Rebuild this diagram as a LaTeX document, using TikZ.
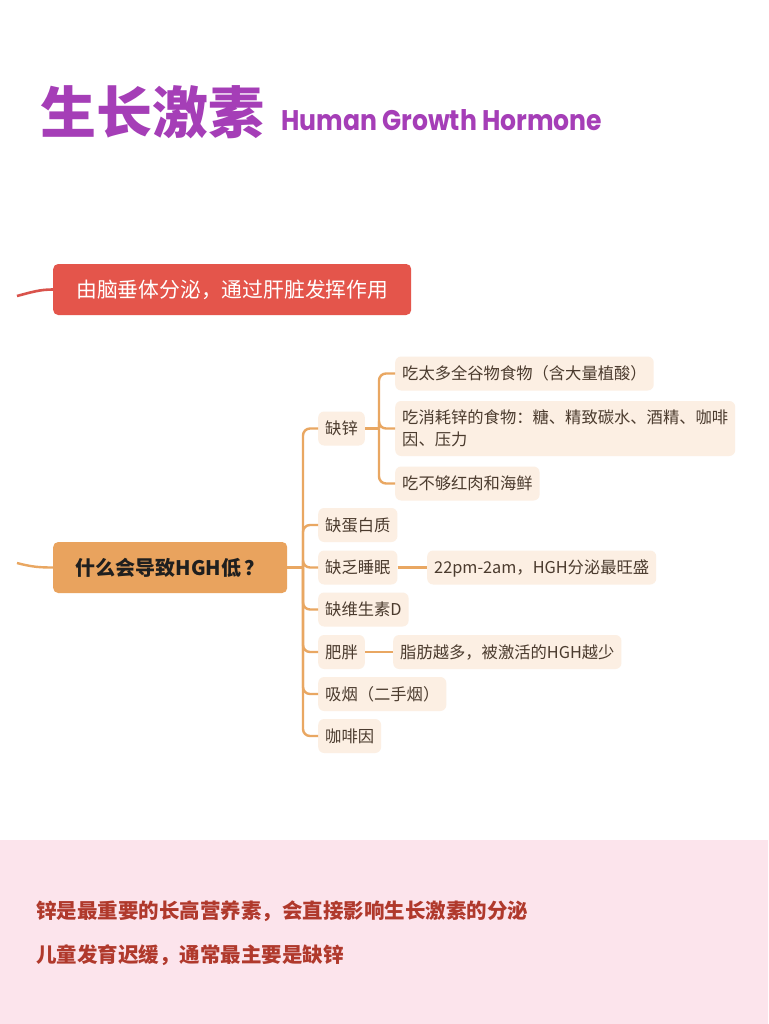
\documentclass[tikz,border=0pt]{standalone}
\usepackage{fontspec}
\newfontfamily\cjk{Noto Sans CJK SC}
\newfontfamily\pop{Poppins}
\definecolor{purp}{HTML}{A53EB7}
\definecolor{redc}{HTML}{E4554B}
\definecolor{redl}{HTML}{D9534C}
\definecolor{orc}{HTML}{E9A35E}
\definecolor{orl}{HTML}{E9A762}
\definecolor{leafc}{HTML}{FCEFE3}
\definecolor{txtc}{HTML}{4B3B2E}
\definecolor{pinkbg}{HTML}{FCE4EC}
\definecolor{bred}{HTML}{B0392C}
\tikzset{
  leaf/.style={fill=leafc, rounded corners=6pt, inner xsep=7pt, inner ysep=0pt,
    minimum height=34pt, anchor=west, text=txtc,
    font=\cjk\fontsize{16.3}{22}\selectfont, text height=12.7pt, text depth=0.3pt},
  oline/.style={draw=orl, line width=2.4pt},
  rline/.style={draw=redl, line width=2.6pt},
  bnote/.style={anchor=west, inner sep=0pt, text=bred,
    font=\cjk\bfseries\fontsize{20.5}{24}\selectfont, text height=16pt, text depth=0.4pt}
}
\begin{document}
\begin{tikzpicture}[x=1pt,y=-1pt]
\useasboundingbox (0,0) rectangle (768,1024);
\fill[white] (0,0) rectangle (768,1024);
\fill[pinkbg] (0,840) rectangle (768,1024);

% title
\node[anchor=west, inner sep=0pt, text=purp, font=\cjk\bfseries\fontsize{56}{56}\selectfont,
  text height=43.7pt, text depth=1.1pt] (t1) at (40,112) {生长激素};
\node[anchor=south west, inner sep=0pt, text=purp] (t2) at (281,131)
  {\resizebox{321pt}{21pt}{\pop\bfseries Human Growth Hormone}};

% red branch
\node[fill=redc, rounded corners=5pt, minimum width=358pt, minimum height=51pt, anchor=west,
  inner sep=0pt, text=white, font=\cjk\fontsize{20.8}{24}\selectfont,
  text height=16.2pt, text depth=0.4pt] (rn) at (53,289.5) {由脑垂体分泌，通过肝脏发挥作用};
\coordinate (rs) at (17,296);
\draw[rline] (rs) .. controls (32,292) and (40,289.5) .. (rn.west);

% orange root
\node[fill=orc, rounded corners=5pt, minimum width=234pt, minimum height=51pt, anchor=west,
  inner sep=0pt, text=black!88, font=\cjk\bfseries\fontsize{20}{24}\selectfont,
  text height=15.6pt, text depth=0.4pt] (root) at (53,567.5) {什么会导致HGH低\,？};
\coordinate (os) at (17,563);
\draw[oline] (os) .. controls (32,567) and (40,567.5) .. (root.west);

% children
\node[leaf] (q1) at (318,428.5) {缺锌};
\node[leaf] (q2) at (318,525) {缺蛋白质};
\node[leaf] (q3) at (318,567.5) {缺乏睡眠};
\node[leaf] (q4) at (318,609.5) {缺维生素D};
\node[leaf] (q5) at (318,652) {肥胖};
\node[leaf] (q6) at (318,694) {吸烟（二手烟）};
\node[leaf] (q7) at (318,736) {咖啡因};

\coordinate (tj) at (303,567.5);
\draw[oline] (root.east) -- (tj);
\foreach \c in {q1,q2,q3,q4,q5,q6,q7}{
  \draw[oline, rounded corners=7pt] (tj) |- (\c.west);
}

% zinc leaves
\node[leaf] (z1) at (395,373.5) {吃太多全谷物食物（含大量植酸）};
\node[leaf, align=left, minimum height=55pt, text height=34.7pt, text depth=0.3pt] (z2) at (395,428.5)
  {吃消耗锌的食物：糖、精致碳水、酒精、咖啡\\因、压力};
\node[leaf] (z3) at (395,483.5) {吃不够红肉和海鲜};
\coordinate (zj) at (379,428.5);
\draw[oline] (q1.east) -- (zj);
\foreach \c in {z1,z2,z3}{
  \draw[oline, rounded corners=7pt] (zj) |- (\c.west);
}

% sleep and obesity leaves
\node[leaf] (s1) at (427,567.5) {22pm-2am，HGH分泌最旺盛};
\draw[oline] (q3.east) -- (s1.west);
\node[leaf] (o1) at (393,652) {脂肪越多，被激活的HGH越少};
\draw[oline] (q5.east) -- (o1.west);

% bottom notes
\node[bnote] (b1) at (36,911) {锌是最重要的长高营养素，会直接影响生长激素的分泌};
\node[bnote] (b2) at (36,955) {儿童发育迟缓，通常最主要是缺锌};
\end{tikzpicture}
\end{document}
